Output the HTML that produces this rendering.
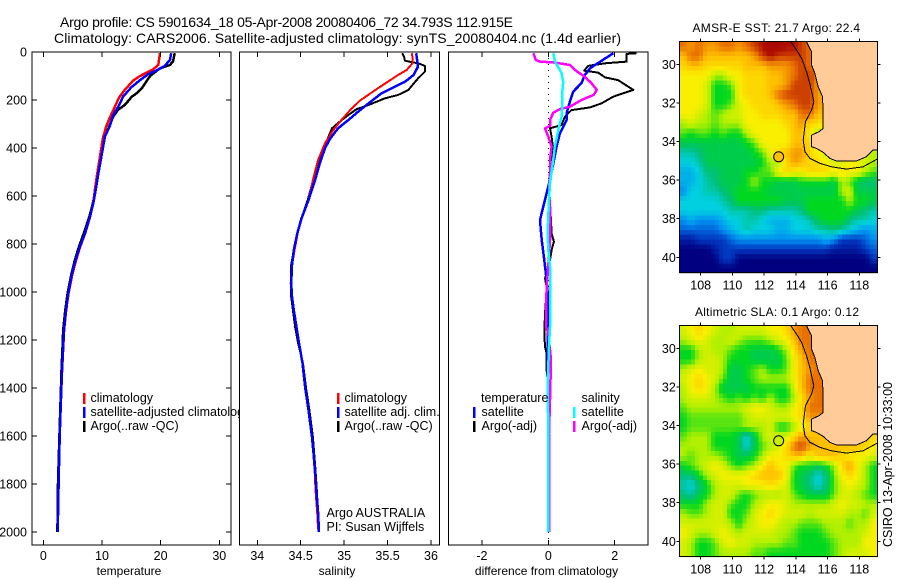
<!DOCTYPE html>
<html>
<head>
<meta charset="utf-8">
<title>Argo profile</title>
<style>
html,body{margin:0;padding:0;background:#fff;}
svg{display:block;}
text{font-family:"Liberation Sans",sans-serif;fill:#000;}
.t{font-size:12.5px;}
.l{font-size:12px;}
</style>
</head>
<body>
<svg id="fig" xmlns="http://www.w3.org/2000/svg" width="900" height="580" viewBox="0 0 900 580">
<rect width="900" height="580" fill="#fff"/>
<text x="60" y="27" font-size="14" textLength="453" lengthAdjust="spacing">Argo profile: CS 5901634_18 05-Apr-2008 20080406_72 34.793S 112.915E</text>
<text x="54" y="43" font-size="14" textLength="567" lengthAdjust="spacing">Climatology: CARS2006. Satellite-adjusted climatology: synTS_20080404.nc (1.4d earlier)</text>
<g id="panels"></g>
<g id="maps"></g>
<text x="692.5" y="32" font-size="12" textLength="167.5" lengthAdjust="spacing">AMSR-E SST: 21.7 Argo: 22.4</text>
<text x="695" y="316" font-size="12" textLength="164" lengthAdjust="spacing">Altimetric SLA: 0.1 Argo: 0.12</text>
<text transform="translate(892,547) rotate(-90)" font-size="12.5" textLength="165" lengthAdjust="spacing">CSIRO 13-Apr-2008 10:33:00</text>
</svg>
<script>
// ---------- profile data ----------
const depthTicks = [0,200,400,600,800,1000,1200,1400,1600,1800,2000];
const tempTicks = [0,10,20,30];
const salTicks = [34,34.5,35,35.5,36];
const salTickLabels = ['34','34.5','35','35.5','36'];
const diffTicks = [-2,0,2];

const tempClimDepth = [5,54,72,100,119,158,190,228,270,311,367,436,505,575,630,686,755,817,874,929,1005,1075,1158,1242,1325,1408,1600,1800,2000];
const tempClimValue = [19.9,19.6,18.7,16.5,15.3,13.9,12.9,12.2,11.4,10.7,10.1,9.66,9.2,8.8,8.5,7.98,7.15,6.2,5.5,4.92,4.3,3.9,3.55,3.37,3.2,3.07,2.8,2.6,2.45];
const tempSatDepth = [5,33,58,77,92,117,147,186,228,263,304,353,436,505,575,630,686,755,817,874,929,1005,1075,1158,1242,1325,1408,1600,1800,2000];
const tempSatValue = [21.8,21.6,20.7,19.3,17.9,16.5,15,13.6,12.8,11.9,11.4,10.5,9.9,9.4,8.93,8.52,7.96,7.1,6.13,5.4,4.84,4.26,3.87,3.53,3.36,3.19,3.07,2.8,2.6,2.45];
const tempArgoDepth = [5,39,54,68,100,151,172,186,221,239,270,318,353,436,505,575,630,686,755,817,874,929,1005,1075,1158,1242,1325,1408,1600,1800,2000];
const tempArgoValue = [22.4,22.1,21.6,19.9,18.2,16.8,15.9,15.1,13.9,12.8,11.9,11.1,10.2,9.9,9.4,8.9,8.45,7.85,6.9,6,5.3,4.75,4.15,3.75,3.4,3.25,3.1,3,2.75,2.5,2.4];

const salClimDepth = [5,33,50,75,96,151,203,242,283,325,380,450,526,617,692,755,825,887,964,1020,1075,1145,1213,1296,1396,1492,1604,1742,1825,1921,1990];
const salClimValue = [35.78,35.79,35.78,35.72,35.62,35.39,35.18,35.07,34.97,34.875,34.78,34.7,34.645,34.59,34.51,34.465,34.43,34.4,34.385,34.4,34.42,34.45,34.48,34.52,34.55,34.59,34.63,34.66,34.67,34.69,34.7];
const salSatDepth = [5,33,61,96,124,151,172,214,249,283,318,360,401,464,533,617,692,755,825,887,964,1020,1075,1145,1213,1296,1396,1492,1604,1742,1825,1921,2000];
const salSatValue = [35.83,35.84,35.85,35.8,35.7,35.55,35.43,35.28,35.16,35.05,34.93,34.84,34.78,34.72,34.665,34.59,34.51,34.46,34.42,34.4,34.39,34.4,34.42,34.45,34.48,34.52,34.55,34.59,34.63,34.665,34.68,34.7,34.71];
const salArgoDepth = [5,20,36,43,47,58,82,110,158,179,193,221,238,262,290,318,353,408,464,533,617,692,755,825,887,964,1020,1075,1145,1213,1296,1396,1492,1604,1742,1825,1921,1990];
const salArgoValue = [35.67,35.69,35.7,35.78,35.855,35.93,35.93,35.85,35.74,35.62,35.47,35.28,35.145,35.05,34.95,34.86,34.82,34.76,34.7,34.645,34.58,34.51,34.465,34.42,34.39,34.39,34.39,34.41,34.435,34.47,34.525,34.56,34.6,34.64,34.67,34.685,34.7,34.71];

const diffTempSatDepth = [5,36,68,96,130,165,207,255,283,339,394,464,533,589,644,700,783,867,950,1033,1200,1500,2000];
const diffTempSatValue = [1.96,1.61,1.26,1.1,1,0.75,0.65,0.55,0.55,0.35,0.25,0.15,0.05,-0.05,-0.15,-0.25,-0.2,-0.12,-0.05,0,-0.02,0,0];
const diffTempArgoDepth = [5,8,40,47,58,78,86,106,117,158,186,214,231,242,269,304,318,353,408,450,506,561,644,700,756,790,825,867,922,943,978,1033,1089,1172,1228,1256,1325,1394,2000];
const diffTempArgoValue = [2.66,2.36,2.36,1.71,1.2,1.08,1.5,1.71,2.1,2.56,1.96,1.6,1.26,0.7,0.5,0.4,0.05,0.1,0.15,0.08,0.05,0.03,0.05,0.08,0.1,0.17,0.1,0.05,-0.05,-0.1,-0.05,-0.07,-0.1,-0.12,-0.1,-0.05,-0.05,0,0];
const diffSalArgoDepth = [5,33,40,44,54,75,103,130,158,179,200,228,238,253,283,308,318,353,394,450,506,561,644,783,894,978,1144,1172,1283,1450,1589,2000];
const diffSalArgoValue = [-0.45,-0.38,-0.25,0.2,0.65,0.8,1.1,1.3,1.46,1.36,1,0.65,0.35,0.15,0.05,0.05,-0.1,0,0.1,0.05,0.05,0.02,0.05,0.05,0,-0.05,-0.07,0,0.08,0.05,0.02,0.03];
const diffSalSatDepth = [5,40,75,89,124,172,228,269,325,394,478,547,617,756,825,894,1033,1144,1228,1311,1380,1589,2000];
const diffSalSatValue = [0.15,0.2,0.35,0.4,0.45,0.42,0.42,0.4,0.3,0.2,0.12,0.05,0.02,-0.02,0,0.05,0.05,0.05,0.02,0,-0.02,0,0];

// ---------- map data (colour level per half-degree cell, north to south) ----------
const mapLonTicks = [108,110,112,114,116,118];
const mapLatTicks = [30,32,34,36,38,40];
const argoLon = 112.915;
const argoLat = 34.793;
const sstLevels = [
[9,8.5,9,8.5,8.5,9,9,8.5,9,9.5,10,10.5,10.5,10,10,9.5,9],
[8,9,9,8,8,8,8,8,8,8.5,9.5,10,9.5,9.5,9.5,9.5,9],
[7.5,8,8,7.5,7.5,7.5,7.5,7.5,8,8,8,8.5,8.5,8.5,9,9.5,9,9],
[7,7,7,7,6,6,7,7,7.5,7.5,7.5,8,8,8.5,9,9.5,9.5,9],
[7,7,7,6.5,5,5,5.5,7,7.5,7.5,7.5,8,8,8.5,9.5,9.5,9.5,8.5],
[7,7,7,6.5,5,5,5,7,7.5,7.5,7.5,8,9,9.5,9.5,9.5,9.5,8.5,8],
[7,7,7,6.5,5,5,5.5,6.5,7,7.5,7.5,7.5,8,8.5,9,9.5,9.5,8.5,8],
[7,7,6.5,6,5.5,6,6.5,6.5,7,7,7.5,7.5,7.5,8,8,9,9,8,8],
[6,6.5,6,6,5.5,6,6,6,7,7,7,7,7,7.5,8,8.5,7.5,7.5,7],
[5.5,5,5.5,5.5,5,5.5,5,5,6,7,7,7,7,7,8,8,7,6,6],
[4.5,4.5,4.5,4.5,4.5,4.5,4.5,4.5,5,5.5,7,7,7,7,8,8,7.5,7,7],
[3.5,3.5,4,4.5,4.5,4.5,4.5,4.5,4.5,5,5.5,7,7.5,8,8.5,8.5,7.5,7,6.5,6.5,6.5,6.5,6.5,6.5,6],
[3,3,3.5,4.5,4.5,4.5,4.5,4.5,4.5,4.5,5,6,6,7.5,8.5,8,7.5,7.5,7,6.5,6.5,7,7,6.5,6],
[2.5,2.5,3,4,4,4.5,4.5,4.5,5,5,5.5,5.5,7,7.5,7,7,7.5,7.5,7.5,7,7.5,7,7,6,5.5],
[2.5,2.5,3,3.5,4,4.5,4.5,4.5,5,6,5,5,4.5,4.5,4.5,5,5,5,5,4.5,6,5.5,4.5,4,4],
[2,3,3,3.5,3.5,4,4.5,5,5,5,5,4.5,4.5,4.5,4.5,4.5,4.5,4.5,4.5,4.5,6,6.5,4.5,4.5,4.5],
[3,3,3,3,3,3.5,4,5,5,5,5,5,5,4.5,4.5,4.5,5,5,5,5,5,6,5,5,4.5],
[3,3,3,3,3,3,3.5,3.5,3.5,4,4,3.5,3.5,3.5,3.5,4,5,5,5,5,5,5,4.5,4,3.5],
[2,2.5,2,2,2,2.5,3,3,3.5,3.5,3,2.5,2.5,2.5,3,3,3.5,4.5,5,5,5,4,3.5,3.5,3],
[1.5,1.5,1.5,1.5,1.5,2,2.5,3,3.5,3,3,3,2.5,2.5,3,3,3,3.5,3.5,4,3.5,3,2.5,2,2.5],
[0.5,0.5,1,1,1,1,1.5,2,2,2,2,2,2,2,2,2,2,2,2.5,2,1,1,1,1.5,2],
[0,0,0,0,0.5,1,1,1,1,1,1,1,1,1,1,1,1,1,1,0.5,0.5,0.5,0.5,1,1.5],
[0,0,0,0,0,1,1,0,0,0,0,0,0,0,0,0,0,0,0,0,0,0,0,0,1],
[0,0,0,0,0,0,0,0,0,0,0,0,0,0,0,0,0,0,0,0,0,0,0,0,0]
];
const slaLevels = [
[6.5,7,7.5,7,6.5,6,6,6.5,6.5,6.5,6.5,7,7,7.5,8.5,9,9],
[6,6.5,7,6.5,6,6,6.5,6,5.5,5.5,5.5,6,6.5,7,8,9,9],
[5,5,6,6.5,6,6,5.5,5,5,4.5,4.5,4.5,5,6,7.5,8.5,9,9],
[5,5,6,6.5,6.5,6,5,5,5,4.5,4.5,4.5,4.5,5.5,7,8,9,9],
[6,6.5,7,6.5,6.5,6,4.5,4.5,5,5.5,6,5,5,5.5,7,8,8.5,9],
[6.5,7,7.5,7,6.5,5.5,4.5,4.5,5,5.5,6,6,6,6,7,8,9,9,9],
[6,7,7.5,7,6,4.5,4.5,4.5,4.5,5,5,5,5,5,6.5,8,9,9,9],
[6,6.5,6.5,6.5,6,5.5,5,5.5,5,5.5,5,6,5,5,6,7.5,8.5,9,9],
[5.5,6,6,6,6,6,6,6,6.5,7,7,6.5,6,6,7,7.5,9,9,9],
[5,5.5,5.5,5.5,5.5,5.5,5.5,5.5,6,6.5,6.5,6.5,6.5,6.5,7,7.5,8.5,8.5,8.5],
[5,5.5,5.5,5.5,5.5,5.5,5.5,5.5,6,6,6,6.5,5,5,6,7,7.5,8,8],
[5.5,6,6,6,5,5,5,4.5,3,4.5,6,6.5,6.5,6.5,7.5,8.5,8,8,8,8,8,8,8,8,7.5],
[6,6,6,6,5,5,5,4.5,3,4.5,5.5,6,6.5,7.5,9,9.5,8.5,8,8,8,8,8,8,7.5,7],
[6,5.5,6,6,6,5.5,5,4.5,4.5,5,6,7,7,7.5,8,8,7,8,8,8,7.5,7,7,7,6.5],
[5,5.5,6,6.5,7,6.5,5.5,5,5.5,6,7,8,7,7,5.5,5,5,4.5,5,6,7.5,8.5,7,6,5],
[4,4,5,6,6.5,7,7,7,7,7.5,8,8,8,7,5,4.5,4,3,4,5.5,7,7.5,7,6,5],
[3.5,3,4,5,6,6.5,6.5,6.5,7,7,7,7.5,7,6.5,5,4.5,4,3,4,5.5,6.5,7,6.5,6,5],
[4,3.5,4.5,5,6,6.5,6.5,5.5,5,5.5,6,6,6,6.5,5.5,5,4.5,4.5,4.5,5.5,6.5,6.5,6,5.5,5],
[5,5,5,6,6.5,6.5,5.5,5,5,6,6.5,7,7,6.5,6,6,6,6,6,6.5,7,6.5,6.5,6,6],
[6,5.5,5.5,6,6.5,6.5,5,5,5.5,6.5,7,7.5,7,6.5,6.5,6.5,6,6.5,6.5,6.5,6.5,6,6,5.5,6.5],
[6.5,6.5,6.5,6.5,6.5,6.5,6,5,6,6.5,7,7,6.5,6,6,5.5,5.5,5.5,6,6,6,5.5,6,6,7],
[7,6.5,6,6,6.5,7,6.5,6,6.5,6.5,6.5,6.5,6,6,5.5,5,5,5,5.5,6,6,6,6,6.5,7],
[6.5,6,5,5,5.5,6.5,7,6.5,6.5,6,6,6,6,5.5,5.5,5,5,5,5,5.5,6,6,6,7,7],
[6.5,6,5,5,5.5,6,6,6,6,5.5,5.5,5,5,5,5,5,5,5,5,5.5,6,6.5,6.5,6.5,7]
];
const landLon = [114.67,114.99,114.99,115.2,115.41,115.68,115.72,115.72,115.47,114.99,114.99,115.3,115.72,116.14,116.56,117.82,118.45,118.87,119.13,119.13,114.67];
const landLat = [28.83,29.35,30.04,30.47,31.16,31.68,32.46,33.32,33.49,33.67,34.27,34.36,34.56,34.87,35.01,35.01,34.79,34.44,34.44,28.83,28.83];
const isobathLon = [113.69,114.04,114.36,114.67,114.88,115.13,114.99,114.61,114.46,114.57,114.88,115.51,116.25,117.19,118.24,119.13];
const isobathLat = [28.83,29.26,29.69,30.38,30.99,31.94,32.37,32.97,33.92,34.53,34.87,35.13,35.31,35.43,35.31,34.91];
const levelColors = ['#000080','#0038c0','#0090f0','#00d0e0','#00c078','#00d820','#b0f000','#f8f000','#ffc000','#e87000','#b01000','#a00000'];

// ---------- helpers ----------
const NS = 'http://www.w3.org/2000/svg';
function mk(parent, tag, attrs, text){
  const el = document.createElementNS(NS, tag);
  for (const k in attrs) el.setAttribute(k, attrs[k]);
  if (text !== undefined) el.textContent = text;
  parent.appendChild(el);
  return el;
}
function linear(d0, d1, r0, r1){ return v => r0 + (v - d0) * (r1 - r0) / (d1 - d0); }
const yDepth = linear(0, 2000, 52, 532);

function polyline(g, xs, ys, fx, fy, color, width, name){
  const pts = xs.map((v, i) => fx(v).toFixed(1) + ',' + fy(ys[i]).toFixed(1)).join(' ');
  const p = mk(g, 'polyline', {points: pts, fill: 'none', stroke: color, 'stroke-width': width, 'stroke-linejoin': 'round', 'shape-rendering': 'crispEdges'});
  
  
}
function tickLine(g, x1, y1, x2, y2){
  const t = mk(g, 'line', {x1, y1, x2, y2, stroke: '#000', 'stroke-width': 1, 'shape-rendering': 'crispEdges'});
  
  
}
function label(g, x, y, str, anchor, cls, name){
  const t = mk(g, 'text', {x, y, 'text-anchor': anchor, class: cls}, str);
  
  
  return t;
}
function legendMark(g, x, y, color, name){
  const r = mk(g, 'rect', {x: x - 1, y: y, width: 2.5, height: 11, fill: color, 'shape-rendering': 'crispEdges'});
  
  
}

// ---------- profile panels ----------
const panelsG = document.getElementById('panels');

function panel(name, left, right, top, bottom, ticks, tickLabels, fx, xTitle, titleX, withDepth, draw){
  const g = mk(panelsG, 'g', {});
  
  
  const bg = mk(g, 'rect', {x: left, y: top, width: right - left, height: bottom - top, fill: '#fff', stroke: 'none'});
  
  
  draw(g);
  ticks.forEach((v, i) => {
    tickLine(g, fx(v), top, fx(v), top + 5);
    tickLine(g, fx(v), bottom, fx(v), bottom - 5);
    label(g, fx(v), 560, tickLabels[i], 'middle', 't', 'x-tick-label');
  });
  if (withDepth) depthTicks.forEach(d => {
    tickLine(g, left, yDepth(d), left + 5, yDepth(d));
    tickLine(g, right, yDepth(d), right - 5, yDepth(d));
    label(g, left - 5, yDepth(d) + 4.5, String(d), 'end', 't', 'depth-tick-label');
  });
  const frame = mk(g, 'rect', {x: left, y: top, width: right - left, height: bottom - top, fill: 'none', stroke: '#000', 'stroke-width': 1, 'shape-rendering': 'crispEdges'});
  
  
  label(g, titleX, 575, xTitle, 'middle', 'l', name + '-x-title');
}

const xTemp = linear(0, 30, 43.3, 219.3);
const xSal = linear(34, 36, 257.3, 431);
const xDiff = linear(-2, 2, 481.9, 614.7);

panel('temperature-panel', 32, 231, 52, 545, tempTicks, tempTicks.map(String), xTemp, 'temperature', 129, true, g => {
  polyline(g, tempArgoValue, tempArgoDepth, xTemp, yDepth, '#000', 2.5, 'temperature-argo-line');
  polyline(g, tempClimValue, tempClimDepth, xTemp, yDepth, '#f00', 2.5, 'temperature-climatology-line');
  polyline(g, tempSatValue, tempSatDepth, xTemp, yDepth, '#00f', 2.5, 'temperature-satellite-line');
  legendMark(g, 84, 393, '#f00', 'legend-climatology-mark');
  label(g, 90.5, 402, 'climatology', 'start', 't', 'legend-climatology');
  legendMark(g, 84, 407, '#00f', 'legend-satellite-mark');
  label(g, 90.5, 416, 'satellite-adjusted climatology', 'start', 't', 'legend-satellite-adjusted');
  legendMark(g, 84, 421, '#000', 'legend-argo-mark');
  label(g, 90.5, 430, 'Argo(..raw -QC)', 'start', 't', 'legend-argo');
});

panel('salinity-panel', 239.5, 439.5, 52, 545, salTicks, salTickLabels, xSal, 'salinity', 337, false, g => {
  polyline(g, salArgoValue, salArgoDepth, xSal, yDepth, '#000', 2, 'salinity-argo-line');
  polyline(g, salClimValue, salClimDepth, xSal, yDepth, '#f00', 2, 'salinity-climatology-line');
  polyline(g, salSatValue, salSatDepth, xSal, yDepth, '#00f', 2.5, 'salinity-satellite-line');
  legendMark(g, 338, 393, '#f00', 'legend-climatology-mark');
  label(g, 344.5, 402, 'climatology', 'start', 't', 'legend-climatology');
  legendMark(g, 338, 407, '#00f', 'legend-satellite-mark');
  label(g, 344.5, 416, 'satellite adj. clim.', 'start', 't', 'legend-satellite-adjusted');
  legendMark(g, 338, 421, '#000', 'legend-argo-mark');
  label(g, 344.5, 430, 'Argo(..raw -QC)', 'start', 't', 'legend-argo');
  label(g, 326.5, 517, 'Argo AUSTRALIA', 'start', 't', 'float-country-note');
  label(g, 326.5, 531, 'PI: Susan Wijffels', 'start', 't', 'principal-investigator-note');
});

panel('difference-panel', 448.5, 648, 52, 545, diffTicks, diffTicks.map(String), xDiff, 'difference from climatology', 546.5, false, g => {
  const z = mk(g, 'line', {x1: xDiff(0), x2: xDiff(0), y1: 52, y2: 545, stroke: '#000', 'stroke-width': 1, 'stroke-dasharray': '1 5', 'shape-rendering': 'crispEdges'});
  
  
  polyline(g, diffTempArgoValue, diffTempArgoDepth, xDiff, yDepth, '#000', 2, 'temperature-argo-difference-line');
  polyline(g, diffTempSatValue, diffTempSatDepth, xDiff, yDepth, '#00f', 2.5, 'temperature-satellite-difference-line');
  polyline(g, diffSalArgoValue, diffSalArgoDepth, xDiff, yDepth, '#f0f', 2.5, 'salinity-argo-difference-line');
  polyline(g, diffSalSatValue, diffSalSatDepth, xDiff, yDepth, '#0ff', 2.5, 'salinity-satellite-difference-line');
  label(g, 481, 402, 'temperature', 'start', 't', 'legend-temperature-heading');
  legendMark(g, 474, 407, '#00f', 'legend-temperature-satellite-mark');
  label(g, 481.5, 416, 'satellite', 'start', 't', 'legend-temperature-satellite');
  legendMark(g, 474, 421, '#000', 'legend-temperature-argo-mark');
  label(g, 481.5, 430, 'Argo(-adj)', 'start', 't', 'legend-temperature-argo');
  label(g, 581.5, 402, 'salinity', 'start', 't', 'legend-salinity-heading');
  legendMark(g, 574, 407, '#0ff', 'legend-salinity-satellite-mark');
  label(g, 581.5, 416, 'satellite', 'start', 't', 'legend-salinity-satellite');
  legendMark(g, 574, 421, '#f0f', 'legend-salinity-argo-mark');
  label(g, 581.5, 430, 'Argo(-adj)', 'start', 't', 'legend-salinity-argo');
});

// ---------- maps ----------
const mapsG = document.getElementById('maps');
function levelColor(v){
  const c = Math.max(0, Math.min(levelColors.length - 1, v));
  const i = Math.floor(c), f = c - i;
  const a = levelColors[i], b = levelColors[Math.min(i + 1, levelColors.length - 1)];
  const ch = s => [1, 3, 5].map(p => parseInt(s.substr(p, 2), 16));
  const A = ch(a), B = ch(b);
  return 'rgb(' + A.map((x, k) => Math.round(x + (B[k] - x) * f)).join(',') + ')';
}
// interpolated shading between half-degree cell centres
function sampleLevel(levels, r, c){
  const at = (i, j) => {
    const row = levels[Math.max(0, Math.min(levels.length - 1, i))];
    return row[Math.max(0, Math.min(row.length - 1, j))];
  };
  const i = Math.floor(r), j = Math.floor(c), fr = r - i, fc = c - j;
  return (1 - fr) * ((1 - fc) * at(i, j) + fc * at(i, j + 1)) + fr * ((1 - fc) * at(i + 1, j) + fc * at(i + 1, j + 1));
}
function drawMap(name, levels, top, bottom, lat30, lat40, markerColor){
  const left = 679.3, right = 877.3;
  const fx = linear(108, 118, 700.7, 859.3);
  const fy = linear(30, 40, lat30, lat40);
  const lon0 = 106.65, lat0 = 28.83, step = 0.25;
  const g = mk(mapsG, 'g', {});
  
  
  for (let si = 0; si < levels.length * 2; si++) {
    const rowLen = levels[Math.floor(si / 2)].length * 2;
    for (let sj = 0; sj < rowLen; sj++) {
      const v = sampleLevel(levels, (si + 0.5) / 2 - 0.5, (sj + 0.5) / 2 - 0.5);
      const x0 = fx(lon0 + sj * step), x1 = Math.min(fx(lon0 + (sj + 1) * step), right);
      const y0 = fy(lat0 + si * step), y1 = Math.min(fy(lat0 + (si + 1) * step), bottom);
      const c = mk(g, 'rect', {x: x0.toFixed(1), y: y0.toFixed(1), width: (x1 - x0 + 0.6).toFixed(1), height: (y1 - y0 + 0.6).toFixed(1), fill: levelColor(v), 'shape-rendering': 'crispEdges'});
      
      
    }
  }
  const land = mk(g, 'polygon', {points: landLon.map((v, i) => fx(v).toFixed(1) + ',' + fy(landLat[i]).toFixed(1)).join(' '), fill: '#ffcc99', stroke: 'none'});
  
  
  polyline(g, landLon.slice(0, 19), landLat.slice(0, 19), fx, fy, '#000', 1, 'coastline');
  polyline(g, isobathLon, isobathLat, fx, fy, '#000', 1, 'isobath-contour');
  const m = mk(g, 'circle', {cx: fx(argoLon), cy: fy(argoLat), r: 5, fill: markerColor, stroke: '#000', 'stroke-width': 1});
  
  
  const cover = mk(g, 'rect', {x: 670, y: bottom + 0.5, width: 215, height: 5, fill: '#fff'});
  
  
  const frame = mk(g, 'rect', {x: left, y: top, width: right - left, height: bottom - top, fill: 'none', stroke: '#000', 'stroke-width': 1, 'shape-rendering': 'crispEdges'});
  
  
  mapLonTicks.forEach(v => {
    tickLine(g, fx(v), top, fx(v), top - 3);
    tickLine(g, fx(v), bottom, fx(v), bottom + 3);
    label(g, fx(v), bottom + 17, String(v), 'middle', 't', 'longitude-tick-label');
  });
  mapLatTicks.forEach(v => {
    tickLine(g, left, fy(v), left - 3, fy(v));
    tickLine(g, right, fy(v), right + 3, fy(v));
    label(g, left - 3.5, fy(v) + 4.5, String(v), 'end', 't', 'latitude-tick-label');
  });
}
drawMap('sst-map', sstLevels, 41.7, 272.7, 64.3, 257.3, '#ffc000');
drawMap('sla-map', slaLevels, 325.7, 556.7, 348.3, 541.3, '#c8f000');
</script>
</body>
</html>
